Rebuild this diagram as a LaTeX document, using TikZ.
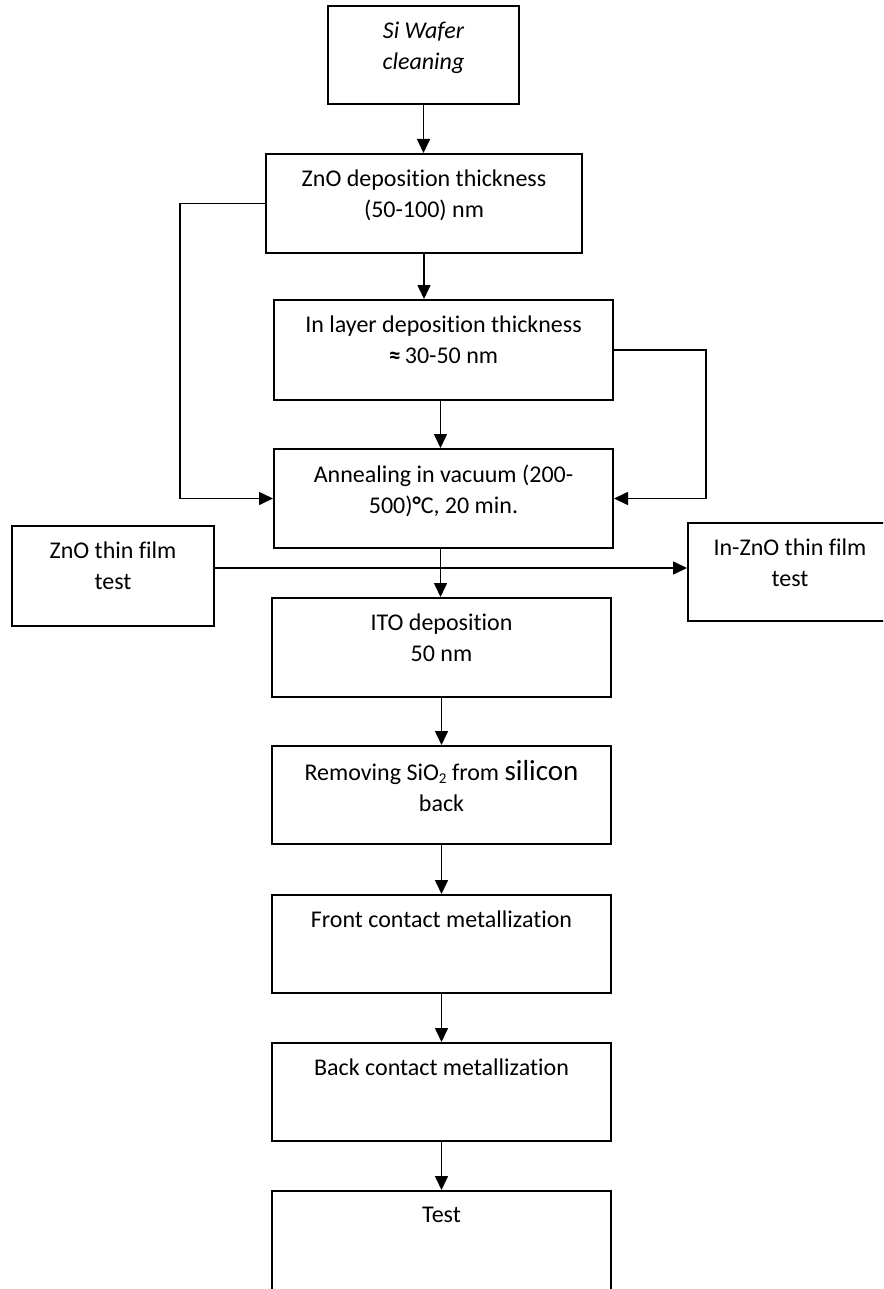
\documentclass[tikz,border=0pt]{standalone}
\usepackage{fontspec}
\setmainfont{Carlito}[Ligatures={NoCommon}]
\usetikzlibrary{arrows.meta}
\begin{document}
\begin{tikzpicture}[x=1pt,y=-1pt,
  box/.style={draw, line width=2pt, rectangle, inner sep=0pt},
  lbl/.style={anchor=north, inner sep=0pt, align=center, font=\fontsize{24}{31}\selectfont},
  con/.style={line width=1.6pt},
  arr/.style={con, -{Triangle[length=14pt,width=13pt]}}]
\useasboundingbox (0,0) rectangle (883,1289);
\clip (0,0) rectangle (883,1289);
% boxes
\node[box, minimum width=191pt, minimum height=98pt] (b1) at (423.5,55) {};
\node[box, minimum width=316pt, minimum height=99pt] (b2) at (424,203.5) {};
\node[box, minimum width=339pt, minimum height=100pt] (b3) at (443.5,350) {};
\node[box, minimum width=339pt, minimum height=99pt] (b4) at (443.5,498.5) {};
\node[box, minimum width=202pt, minimum height=100pt] (zt) at (113,576) {};
\node[box, minimum width=204pt, minimum height=98pt] (izt) at (790,572) {};
\node[box, minimum width=339pt, minimum height=99pt] (b5) at (441.5,647.5) {};
\node[box, minimum width=339pt, minimum height=98pt] (b6) at (441.5,795) {};
\node[box, minimum width=339pt, minimum height=98pt] (b7) at (441.5,944) {};
\node[box, minimum width=339pt, minimum height=98pt] (b8) at (441.5,1092) {};
\node[box, minimum width=339pt, minimum height=130pt] (b9) at (441.5,1256) {};
% labels
\node[lbl, font=\fontsize{24}{31}\selectfont\itshape] (t1) at ([yshift=-17pt]b1.north) {Si Wafer\\cleaning};
\node[lbl] (t2) at ([yshift=-17pt]b2.north) {ZnO deposition thickness\\(50-100) nm};
\node[lbl] (t3) at ([yshift=-17pt]b3.north) {In layer deposition thickness\\{\bfseries ≈}\,30-50 nm};
\node[lbl] (t4) at ([yshift=-17pt]b4.north) {Annealing in vacuum (200-\\500){\bfseries °}C, 20 min.};
\node[lbl] (tz) at ([yshift=-17pt]zt.north) {ZnO thin film\\test};
\node[lbl] (ti) at ([yshift=-17pt]izt.north) {In-ZnO thin film\\test};
\node[lbl] (t5) at ([yshift=-17pt]b5.north) {ITO deposition\\50 nm};
\node[lbl] (t6) at ([yshift=-15pt]b6.north) {Removing SiO{\fontsize{15}{15}\selectfont\raisebox{-3pt}{2}} from {\fontsize{29}{31}\selectfont silicon}\\back};
\node[lbl] (t7) at ([yshift=-17pt]b7.north) {Front contact metallization};
\node[lbl] (t8) at ([yshift=-17pt]b8.north) {Back contact metallization};
\node[lbl] (t9) at ([yshift=-17pt]b9.north) {Test};
% connectors
\draw[arr] (b1.south) -- (b1.south |- b2.north);
\draw[arr] (b2.south) -- (b2.south |- b3.north);
\draw[arr] ([xshift=-3pt]b3.south) -- ([xshift=-3pt]b3.south |- b4.north);
\draw[arr] ([xshift=-3pt]b4.south) -- ([xshift=-3pt]b4.south |- b5.north);
\draw[arr] (b5.south) -- (b5.south |- b6.north);
\draw[arr] (b6.south) -- (b6.south |- b7.north);
\draw[arr] (b7.south) -- (b7.south |- b8.north);
\draw[arr] (b8.south) -- (b8.south |- b9.north);
\draw[arr] (b2.west) -- ++(-85,0) |- (b4.west);
\draw[arr] (b3.east) -- ++(92,0) |- (b4.east);
\coordinate (hl) at (0,568);
\draw[arr] (zt.east |- hl) -- (izt.west |- hl);
\end{tikzpicture}
\end{document}
